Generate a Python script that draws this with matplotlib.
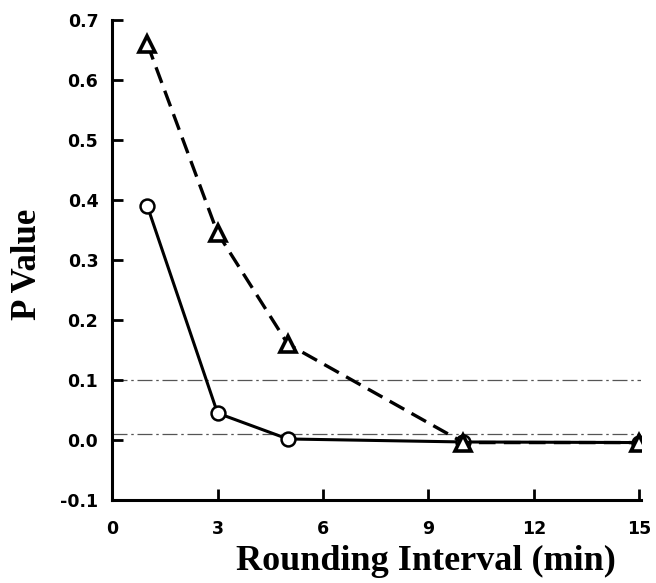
import matplotlib
matplotlib.use("Agg")
import matplotlib.pyplot as plt

intervals = [1, 3, 5, 10, 15]
p_circle = [0.39, 0.045, 0.002, -0.003, -0.004]
p_triangle = [0.66, 0.345, 0.16, -0.004, -0.004]
ref_levels = [0.1, 0.01]
xticks = [0, 3, 6, 9, 12, 15]
yticks = [-0.1, 0.0, 0.1, 0.2, 0.3, 0.4, 0.5, 0.6, 0.7]

fig = plt.figure(figsize=(6.56, 5.83), dpi=100)
ax = fig.add_axes([0.171, 0.142, 0.806, 0.824])

for lv in ref_levels:
    ax.axhline(lv, color="#555555", lw=0.9, ls=(0, (12, 3, 2, 3)), zorder=1)

ax.plot(intervals, p_circle, color="black", lw=2.2, marker="o", ms=10,
        mfc="white", mec="black", mew=1.8, zorder=3)
ax.plot(intervals, p_triangle, color="black", lw=2.4, ls=(0, (5, 2.5)), marker="^",
        ms=12, mfc="white", mec="black", mew=2.6, zorder=4)

ax.set_xlim(0, 15.05)
ax.set_ylim(-0.1, 0.7)
ax.set_xticks(xticks)
ax.set_yticks(yticks)
ax.set_xticklabels([str(t) for t in xticks])
ax.set_yticklabels([f"{t:.1f}" for t in yticks])
for s in ["top", "right"]:
    ax.spines[s].set_visible(False)
for s in ["left", "bottom"]:
    ax.spines[s].set_linewidth(2.2)
ax.tick_params(direction="in", length=8, width=2)
ax.tick_params(axis="x", pad=14)
ax.tick_params(axis="y", pad=10)
for lab in ax.get_xticklabels() + ax.get_yticklabels():
    lab.set_fontfamily("DejaVu Sans")
    lab.set_fontweight("bold")
    lab.set_fontsize(12.5)

ax.set_xlabel("Rounding Interval (min)", family="Liberation Serif", weight="bold",
              fontsize=26)
ax.xaxis.set_label_coords(0.594, -0.093)
ax.set_ylabel("P Value", family="Liberation Serif", weight="bold", fontsize=25)
ax.yaxis.set_label_coords(-0.128, 0.49)

fig.savefig("out.png", dpi=100)
